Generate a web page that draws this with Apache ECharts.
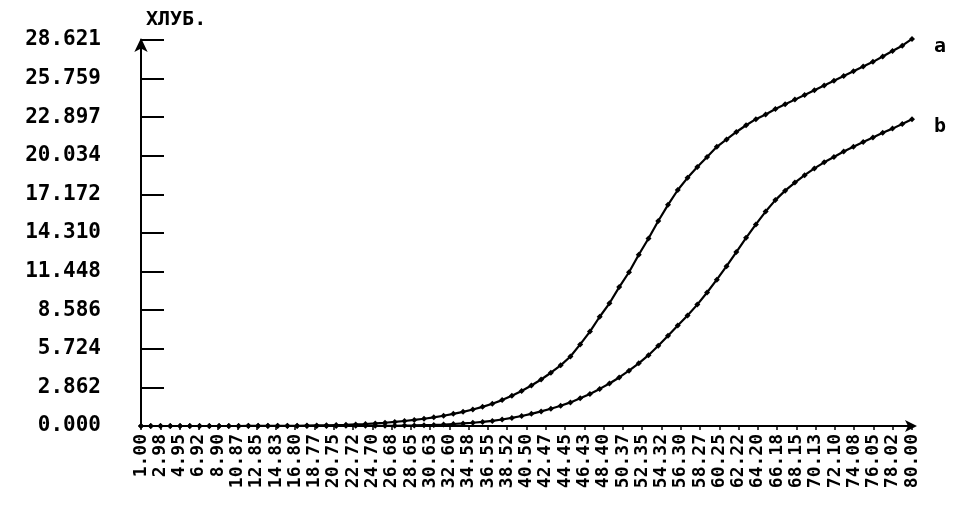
<!DOCTYPE html>
<html><head><meta charset="utf-8">
<script src="https://cdn.jsdelivr.net/npm/echarts@6/dist/echarts.min.js"></script>
<style>html,body{margin:0;padding:0;background:#fff}#c{width:961px;height:511px}</style>
</head><body><div id="c"></div>
<script>
const xTickLabels = ['1.00','2.98','4.95','6.92','8.90','10.87','12.85','14.83','16.80','18.77','20.75','22.72','24.70','26.68','28.65','30.63','32.60','34.58','36.55','38.52','40.50','42.47','44.45','46.43','48.40','50.37','52.35','54.32','56.30','58.27','60.25','62.22','64.20','66.18','68.15','70.13','72.10','74.08','76.05','78.02','80.00'];
const yTickLabels = ['0.000','2.862','5.724','8.586','11.448','14.310','17.172','20.034','22.897','25.759','28.621'];
const yAxisName = 'ХЛУБ.';
const seriesNames = ['a', 'b'];
const seriesA = [0.00,0.00,0.00,0.00,0.00,0.00,0.00,0.00,0.00,0.00,
  0.00,0.01,0.01,0.01,0.01,0.02,0.02,0.03,0.04,0.05,
  0.07,0.09,0.12,0.15,0.19,0.24,0.30,0.37,0.45,0.54,
  0.64,0.76,0.90,1.05,1.22,1.42,1.65,1.92,2.25,2.60,
  3.00,3.45,3.95,4.50,5.15,6.05,7.00,8.10,9.10,10.30,
  11.40,12.70,13.90,15.20,16.40,17.50,18.40,19.20,19.95,20.70,
  21.25,21.80,22.30,22.75,23.10,23.50,23.85,24.20,24.55,24.90,
  25.25,25.60,25.95,26.30,26.65,27.00,27.40,27.80,28.20,28.70];
const seriesB = [0.00,0.00,0.00,0.00,0.00,0.00,0.00,0.00,0.00,0.00,
  0.00,0.00,0.00,0.00,0.00,0.00,0.00,0.00,0.00,0.00,
  0.00,0.01,0.01,0.01,0.01,0.02,0.02,0.03,0.04,0.06,
  0.08,0.11,0.15,0.19,0.24,0.30,0.38,0.48,0.60,0.74,
  0.90,1.08,1.28,1.50,1.75,2.05,2.38,2.75,3.15,3.60,
  4.10,4.65,5.25,5.95,6.70,7.45,8.20,9.00,9.90,10.85,
  11.85,12.90,13.95,14.95,15.90,16.75,17.45,18.05,18.60,19.10,
  19.55,19.95,20.35,20.70,21.05,21.40,21.75,22.05,22.40,22.75];
const yStep = 2.8621, yMax = 28.621;

const font = 'DejaVu Sans Mono';
const chart = echarts.init(document.getElementById('c'), null, {renderer: 'canvas'});
function mk(name, vals) {
  return {
    name: name, type: 'line', xAxisIndex: 1, yAxisIndex: 0,
    data: vals.map((v, i) => [i + 1, v]),
    clip: false,
    symbol: 'diamond', symbolSize: 6, showSymbol: true,
    itemStyle: {color: '#000'},
    lineStyle: {color: '#000', width: 2.2},
    endLabel: {show: true, formatter: name, distance: 22, offset: [0, 8],
      color: '#000', fontFamily: font, fontWeight: 'bold', fontSize: 20},
    animation: false
  };
}
chart.setOption({
  backgroundColor: '#fff',
  animation: false,
  grid: {left: 141, right: 49, top: 40, bottom: 85},
  xAxis: [{
    type: 'category', data: xTickLabels, boundaryGap: false,
    axisLine: {show: true, symbol: ['none', 'arrow'], symbolSize: [9, 12], symbolOffset: [0, 5],
      lineStyle: {color: '#000', width: 2}},
    axisTick: {show: true, alignWithLabel: true, length: 4, lineStyle: {color: '#000', width: 1.5}},
    axisLabel: {rotate: 90, interval: 0, margin: 8, color: '#000', fontFamily: font,
      fontWeight: 'bold', fontSize: 18},
    splitLine: {show: false}
  }, {
    type: 'value', min: 1, max: 80, show: false
  }],
  yAxis: [{
    type: 'value', min: 0, max: yMax, interval: yStep,
    name: yAxisName, nameLocation: 'end', nameGap: 10,
    nameTextStyle: {align: 'left', padding: [0, 0, 0, 5], color: '#000', fontFamily: font,
      fontWeight: 'bold', fontSize: 20},
    axisLine: {show: true, symbol: ['none', 'arrow'], symbolSize: [10, 14], symbolOffset: [0, 2],
      lineStyle: {color: '#000', width: 2}},
    axisTick: {show: true, inside: true, length: 23, lineStyle: {color: '#000', width: 2}},
    axisLabel: {margin: 40, color: '#000', fontFamily: font, fontWeight: 'bold', fontSize: 21,
      formatter: v => yTickLabels[Math.round(v / yStep)]},
    splitLine: {show: false}
  }],
  series: [mk(seriesNames[0], seriesA), mk(seriesNames[1], seriesB)]
});
</script>
</body></html>
